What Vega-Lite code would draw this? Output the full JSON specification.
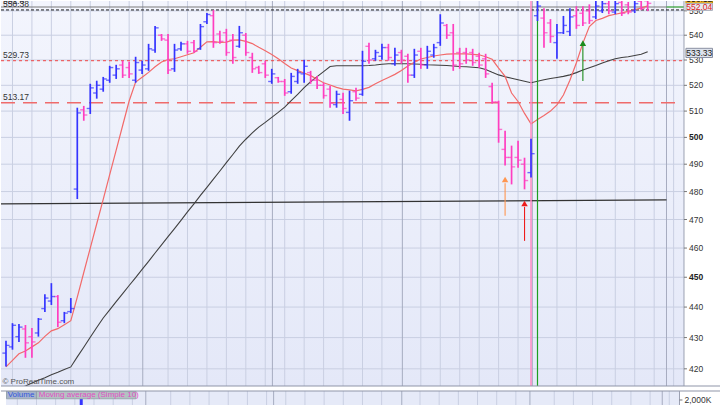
{
  "$schema": "https://vega.github.io/schema/vega-lite/v6.json",
  "padding": 0,
  "spacing": 3,
  "background": "#ffffff",
  "config": {"view": {"stroke": null}, "font": "Liberation Sans"},
  "datasets": {
    "bars": [
      {"i":0,"o":425.0,"h":429.0,"l":420.7,"c":427.5,"m1":420.6,"m2":412.1},
      {"i":1,"o":427.0,"h":434.7,"l":426.1,"c":434.0,"m1":422.7,"m2":413.0},
      {"i":2,"o":430.3,"h":434.4,"l":428.6,"c":433.4,"m1":424.8,"m2":413.8},
      {"i":3,"o":432.8,"h":434.1,"l":423.5,"c":428.3,"m1":425.7,"m2":414.6},
      {"i":4,"o":430.3,"h":433.1,"l":423.5,"c":428.6,"m1":427.0,"m2":415.5},
      {"i":5,"o":431.5,"h":436.4,"l":430.3,"c":436.0,"m1":428.3,"m2":416.4},
      {"i":6,"o":439.5,"h":444.3,"l":438.4,"c":443.0,"m1":430.4,"m2":417.2},
      {"i":7,"o":442.0,"h":448.0,"l":440.7,"c":443.5,"m1":432.2,"m2":418.1},
      {"i":8,"o":443.5,"h":444.0,"l":433.4,"c":435.0,"m1":432.9,"m2":418.9},
      {"i":9,"o":435.5,"h":438.4,"l":434.7,"c":438.0,"m1":434.2,"m2":419.8},
      {"i":10,"o":438.5,"h":443.0,"l":438.0,"c":439.5,"m1":435.5,"m2":420.6},
      {"i":11,"o":480.9,"h":511.3,"l":477.3,"c":509.3,"m1":443.3,"m2":423.8},
      {"i":12,"o":510.5,"h":512.0,"l":506.3,"c":508.5,"m1":451.6,"m2":426.9},
      {"i":13,"o":511.0,"h":520.6,"l":508.9,"c":519.0,"m1":460.0,"m2":430.1},
      {"i":14,"o":517.0,"h":521.8,"l":514.8,"c":520.0,"m1":468.5,"m2":433.3},
      {"i":15,"o":518.5,"h":523.3,"l":517.5,"c":522.5,"m1":477.2,"m2":436.4},
      {"i":16,"o":522.0,"h":527.7,"l":521.0,"c":527.0,"m1":486.2,"m2":439.1},
      {"i":17,"o":524.0,"h":528.1,"l":522.5,"c":526.5,"m1":495.2,"m2":441.8},
      {"i":18,"o":528.0,"h":529.7,"l":522.9,"c":524.0,"m1":504.5,"m2":444.5},
      {"i":19,"o":527.0,"h":529.3,"l":522.9,"c":524.5,"m1":513.9,"m2":447.2},
      {"i":20,"o":522.0,"h":531.3,"l":521.0,"c":529.0,"m1":521.3,"m2":449.9},
      {"i":21,"o":526.0,"h":529.7,"l":524.5,"c":528.0,"m1":523.2,"m2":452.7},
      {"i":22,"o":526.5,"h":536.5,"l":525.7,"c":534.5,"m1":525.1,"m2":455.4},
      {"i":23,"o":534.0,"h":543.8,"l":532.9,"c":543.0,"m1":527.3,"m2":458.3},
      {"i":24,"o":540.0,"h":540.5,"l":537.7,"c":538.5,"m1":529.2,"m2":461.1},
      {"i":25,"o":538.0,"h":540.5,"l":524.5,"c":526.0,"m1":530.2,"m2":464.0},
      {"i":26,"o":526.5,"h":536.5,"l":525.3,"c":534.0,"m1":530.5,"m2":466.8},
      {"i":27,"o":534.5,"h":537.3,"l":533.7,"c":536.5,"m1":531.3,"m2":469.7},
      {"i":28,"o":536.5,"h":537.7,"l":532.5,"c":533.5,"m1":532.1,"m2":472.7},
      {"i":29,"o":537.0,"h":538.1,"l":532.9,"c":533.5,"m1":532.9,"m2":475.6},
      {"i":30,"o":534.5,"h":544.6,"l":534.1,"c":543.5,"m1":535.1,"m2":478.6},
      {"i":31,"o":545.5,"h":549.1,"l":544.6,"c":548.5,"m1":537.3,"m2":481.5},
      {"i":32,"o":548.0,"h":550.3,"l":534.9,"c":537.0,"m1":537.4,"m2":484.5},
      {"i":33,"o":540.5,"h":541.8,"l":536.5,"c":537.5,"m1":537.1,"m2":487.5},
      {"i":34,"o":541.0,"h":542.6,"l":531.7,"c":533.0,"m1":537.2,"m2":490.6},
      {"i":35,"o":538.0,"h":540.5,"l":528.5,"c":531.0,"m1":538.0,"m2":493.6},
      {"i":36,"o":535.5,"h":543.8,"l":534.9,"c":541.0,"m1":538.1,"m2":496.7},
      {"i":37,"o":540.0,"h":540.9,"l":531.7,"c":533.0,"m1":537.5,"m2":499.3},
      {"i":38,"o":531.0,"h":532.9,"l":524.9,"c":526.5,"m1":536.6,"m2":501.7},
      {"i":39,"o":527.0,"h":527.7,"l":524.5,"c":525.0,"m1":535.1,"m2":503.9},
      {"i":40,"o":528.5,"h":529.7,"l":522.9,"c":524.0,"m1":533.7,"m2":505.7},
      {"i":41,"o":521.5,"h":526.5,"l":520.6,"c":524.5,"m1":532.2,"m2":507.6},
      {"i":42,"o":523.0,"h":523.3,"l":521.0,"c":521.5,"m1":530.5,"m2":509.5},
      {"i":43,"o":521.5,"h":522.5,"l":515.9,"c":517.0,"m1":528.6,"m2":511.5},
      {"i":44,"o":517.5,"h":524.9,"l":516.7,"c":523.5,"m1":526.8,"m2":514.0},
      {"i":45,"o":521.5,"h":526.5,"l":520.6,"c":525.0,"m1":525.8,"m2":516.5},
      {"i":46,"o":524.5,"h":530.1,"l":521.0,"c":527.5,"m1":524.8,"m2":519.1},
      {"i":47,"o":525.0,"h":525.7,"l":520.6,"c":522.0,"m1":523.8,"m2":521.4},
      {"i":48,"o":522.0,"h":523.7,"l":518.6,"c":520.0,"m1":522.4,"m2":523.4},
      {"i":49,"o":520.0,"h":521.0,"l":514.8,"c":516.0,"m1":521.0,"m2":525.4},
      {"i":50,"o":518.5,"h":519.8,"l":511.3,"c":513.0,"m1":520.1,"m2":527.4},
      {"i":51,"o":512.5,"h":517.9,"l":511.3,"c":516.5,"m1":519.2,"m2":527.7},
      {"i":52,"o":514.5,"h":517.1,"l":508.9,"c":511.0,"m1":518.5,"m2":527.7},
      {"i":53,"o":509.5,"h":517.9,"l":506.3,"c":514.0,"m1":518.2,"m2":527.7},
      {"i":54,"o":517.5,"h":519.0,"l":514.0,"c":515.0,"m1":517.8,"m2":527.7},
      {"i":55,"o":516.5,"h":533.7,"l":515.9,"c":529.5,"m1":518.4,"m2":527.7},
      {"i":56,"o":535.5,"h":536.9,"l":528.5,"c":530.0,"m1":519.2,"m2":527.8},
      {"i":57,"o":530.5,"h":534.1,"l":529.7,"c":533.0,"m1":520.6,"m2":528.0},
      {"i":58,"o":531.5,"h":536.5,"l":530.1,"c":535.0,"m1":521.9,"m2":528.3},
      {"i":59,"o":535.0,"h":536.5,"l":529.7,"c":531.0,"m1":523.1,"m2":528.5},
      {"i":60,"o":528.5,"h":534.9,"l":527.7,"c":532.0,"m1":524.3,"m2":528.5},
      {"i":61,"o":533.0,"h":534.1,"l":528.5,"c":530.0,"m1":525.8,"m2":528.5},
      {"i":62,"o":531.5,"h":532.5,"l":521.0,"c":524.0,"m1":527.6,"m2":528.5},
      {"i":63,"o":524.0,"h":534.5,"l":522.9,"c":532.0,"m1":529.1,"m2":528.4},
      {"i":64,"o":533.5,"h":534.9,"l":526.5,"c":528.0,"m1":530.4,"m2":528.3},
      {"i":65,"o":528.0,"h":535.7,"l":526.5,"c":533.5,"m1":531.0,"m2":528.1},
      {"i":66,"o":532.0,"h":536.5,"l":530.9,"c":535.0,"m1":531.6,"m2":528.0},
      {"i":67,"o":537.0,"h":548.6,"l":535.7,"c":545.0,"m1":532.0,"m2":527.9},
      {"i":68,"o":544.0,"h":544.6,"l":538.5,"c":540.0,"m1":532.4,"m2":527.8},
      {"i":69,"o":541.0,"h":544.6,"l":525.7,"c":528.0,"m1":532.5,"m2":527.6},
      {"i":70,"o":533.0,"h":534.9,"l":526.5,"c":528.5,"m1":532.5,"m2":527.4},
      {"i":71,"o":533.0,"h":534.9,"l":528.5,"c":530.0,"m1":532.5,"m2":527.3},
      {"i":72,"o":533.0,"h":534.5,"l":527.7,"c":529.0,"m1":532.3,"m2":527.1},
      {"i":73,"o":531.5,"h":532.9,"l":526.9,"c":528.0,"m1":532.1,"m2":526.9},
      {"i":74,"o":530.5,"h":532.5,"l":522.9,"c":524.5,"m1":531.3,"m2":526.2},
      {"i":75,"o":519.5,"h":521.0,"l":512.8,"c":513.5,"m1":530.3,"m2":525.1},
      {"i":76,"o":513.5,"h":514.0,"l":498.0,"c":503.0,"m1":526.8,"m2":524.1},
      {"i":77,"o":495.5,"h":502.5,"l":489.5,"c":492.5,"m1":523.5,"m2":523.4},
      {"i":78,"o":492.5,"h":496.9,"l":482.6,"c":489.0,"m1":517.0,"m2":522.8},
      {"i":79,"o":492.5,"h":498.7,"l":488.7,"c":491.5,"m1":513.7,"m2":522.2},
      {"i":80,"o":490.0,"h":492.4,"l":480.8,"c":484.0,"m1":509.1,"m2":521.6},
      {"i":81,"o":486.9,"h":499.5,"l":485.1,"c":493.9,"m1":505.1,"m2":521.0},
      {"i":82,"o":548.0,"h":558.0,"l":545.8,"c":552.0,"m1":506.8,"m2":521.6},
      {"i":83,"o":547.0,"h":551.1,"l":534.9,"c":541.0,"m1":508.3,"m2":522.2},
      {"i":84,"o":545.0,"h":546.6,"l":536.9,"c":539.5,"m1":510.0,"m2":522.7},
      {"i":85,"o":537.0,"h":544.6,"l":530.5,"c":541.0,"m1":512.4,"m2":523.1},
      {"i":86,"o":541.0,"h":547.9,"l":540.5,"c":544.0,"m1":516.2,"m2":523.5},
      {"i":87,"o":541.5,"h":551.1,"l":539.7,"c":547.5,"m1":522.0,"m2":524.1},
      {"i":88,"o":548.0,"h":551.9,"l":542.6,"c":544.0,"m1":528.9,"m2":525.0},
      {"i":89,"o":549.0,"h":551.9,"l":543.8,"c":545.0,"m1":536.8,"m2":526.0},
      {"i":90,"o":550.0,"h":552.7,"l":544.6,"c":546.0,"m1":543.5,"m2":526.9},
      {"i":91,"o":547.5,"h":555.0,"l":546.6,"c":552.0,"m1":546.0,"m2":527.8},
      {"i":92,"o":550.0,"h":556.0,"l":549.1,"c":553.0,"m1":546.9,"m2":528.8},
      {"i":93,"o":553.0,"h":555.0,"l":548.6,"c":550.0,"m1":548.0,"m2":529.7},
      {"i":94,"o":549.5,"h":555.5,"l":548.6,"c":553.0,"m1":548.6,"m2":530.5},
      {"i":95,"o":553.5,"h":555.0,"l":547.9,"c":549.0,"m1":549.2,"m2":531.0},
      {"i":96,"o":552.5,"h":553.7,"l":548.6,"c":549.5,"m1":549.8,"m2":531.3},
      {"i":97,"o":550.0,"h":554.5,"l":549.1,"c":553.0,"m1":550.5,"m2":531.8},
      {"i":98,"o":554.0,"h":555.0,"l":550.3,"c":551.0,"m1":551.2,"m2":532.3},
      {"i":99,"o":554.2,"h":554.5,"l":549.9,"c":553.12,"m1":552.04,"m2":533.33}
    ],
    "gridLight": [
      {"g":1},{"g":4},{"g":7},{"g":10},{"g":13},{"g":16},{"g":19},{"g":25},{"g":28},{"g":31},{"g":34},
      {"g":37},{"g":40},{"g":43},{"g":46},{"g":49},{"g":52},{"g":55},{"g":58},{"g":64},{"g":67},{"g":70},
      {"g":73},{"g":76},{"g":79},{"g":85},{"g":88},{"g":91},{"g":94},{"g":97},{"g":100},{"g":103}
    ],
    "gridDark": [{"g":21.1},{"g":41.1},{"g":61.15},{"g":81.2},{"g":101.9}],
    "gridH": [{"p":420},{"p":430},{"p":440},{"p":450},{"p":460},{"p":470},{"p":480},{"p":490},{"p":500},{"p":510},{"p":520},{"p":530},{"p":540},{"p":550}]
  },
  "vconcat": [
    {
      "width": 720,
      "height": 385,
      "layer": [
        {
          "data": {"values": [{"a": -0.77, "b": 104.6}]},
          "mark": {"type": "rect", "clip": true, "fill": {"gradient": "linear", "x1": 0, "y1": 0, "x2": 0, "y2": 1, "stops": [{"offset": 0, "color": "#f3f5fd"}, {"offset": 1, "color": "#e4e8f8"}]}},
          "encoding": {
            "x": {"field": "a", "type": "quantitative", "scale": {"domain": [-0.77, 110.31], "nice": false, "zero": false}, "axis": null},
            "x2": {"field": "b"}
          }
        },
        {
          "data": {"name": "gridH"},
          "mark": {"type": "rule", "color": "#c9cfe2", "strokeWidth": 1},
          "encoding": {
            "x": {"datum": -0.77, "type": "quantitative", "axis": null},
            "x2": {"datum": 104.6},
            "y": {"field": "p", "type": "quantitative", "scale": {"type": "log", "domain": [414.6, 554.1], "nice": false, "zero": false}, "axis": null}
          }
        },
        {
          "data": {"name": "gridLight"},
          "mark": {"type": "rule", "color": "#c9cfe2", "strokeWidth": 1, "clip": true},
          "encoding": {"x": {"field": "g", "type": "quantitative", "axis": null}}
        },
        {
          "data": {"name": "gridDark"},
          "mark": {"type": "rule", "color": "#a6acc0", "strokeWidth": 1, "clip": true},
          "encoding": {"x": {"field": "g", "type": "quantitative", "axis": null}}
        },
        {
          "data": {"values": [{"p": 513.17}]},
          "mark": {"type": "rule", "color": "#ef6b6b", "strokeWidth": 1.5, "strokeDash": [14, 8]},
          "encoding": {"x": {"datum": -0.77, "type": "quantitative", "axis": null}, "x2": {"datum": 104.4}, "y": {"field": "p", "type": "quantitative", "axis": null}}
        },
        {
          "data": {"values": [{"p": 529.73}]},
          "mark": {"type": "rule", "color": "#f04545", "strokeWidth": 1, "strokeDash": [3, 3]},
          "encoding": {"x": {"datum": -0.77, "type": "quantitative", "axis": null}, "x2": {"datum": 104.4}, "y": {"field": "p", "type": "quantitative", "axis": null}}
        },
        {
          "data": {"values": [{"p": 550.38}]},
          "mark": {"type": "rule", "color": "#1a1a1a", "strokeWidth": 1, "strokeDash": [3, 2]},
          "encoding": {"x": {"datum": -0.77, "type": "quantitative", "axis": null}, "x2": {"datum": 104.6}, "y": {"field": "p", "type": "quantitative", "axis": null}}
        },
        {
          "data": {"values": [{"p": 551.6}]},
          "mark": {"type": "rule", "color": "#7a7a7a", "strokeWidth": 1.2},
          "encoding": {"x": {"datum": -0.77, "type": "quantitative", "axis": null}, "x2": {"datum": 101.9}, "y": {"field": "p", "type": "quantitative", "axis": null}}
        },
        {
          "data": {"values": [{"p": 551.6}]},
          "mark": {"type": "rule", "color": "#2a9a2a", "strokeWidth": 1.2},
          "encoding": {"x": {"datum": 101.9, "type": "quantitative", "axis": null}, "x2": {"datum": 104.6}, "y": {"field": "p", "type": "quantitative", "axis": null}}
        },
        {
          "data": {"values": [{"i": -0.77, "p": 475.6, "i2": 101.9, "p2": 477.0}]},
          "mark": {"type": "rule", "color": "#333333", "strokeWidth": 1.2},
          "encoding": {"x": {"field": "i", "type": "quantitative", "axis": null}, "x2": {"field": "i2"}, "y": {"field": "p", "type": "quantitative", "axis": null}, "y2": {"field": "p2"}}
        },
        {
          "data": {"name": "bars"},
          "mark": {"type": "line", "color": "#404040", "strokeWidth": 1.1, "clip": true},
          "encoding": {"x": {"field": "i", "type": "quantitative", "axis": null}, "y": {"field": "m2", "type": "quantitative", "axis": null}}
        },
        {
          "data": {"name": "bars"},
          "mark": {"type": "line", "color": "#f26a6a", "strokeWidth": 1.2, "clip": true},
          "encoding": {"x": {"field": "i", "type": "quantitative", "axis": null}, "y": {"field": "m1", "type": "quantitative", "axis": null}}
        },
        {
          "data": {"values": [{"g": 81}]},
          "mark": {"type": "rule", "color": "#ff8ac4", "strokeWidth": 1.5},
          "encoding": {"x": {"field": "g", "type": "quantitative", "axis": null}}
        },
        {
          "data": {"values": [{"g": 82}]},
          "mark": {"type": "rule", "color": "#1e9e1e", "strokeWidth": 1.2},
          "encoding": {"x": {"field": "g", "type": "quantitative", "axis": null}}
        },
        {
          "data": {"name": "bars"},
          "mark": {"type": "rule", "strokeWidth": 1.7, "clip": true},
          "encoding": {
            "x": {"field": "i", "type": "quantitative", "axis": null},
            "y": {"field": "h", "type": "quantitative", "axis": null},
            "y2": {"field": "l"},
            "color": {"condition": {"test": "datum.c >= datum.o", "value": "#3434ff"}, "value": "#ff3ec0"}
          }
        },
        {
          "data": {"name": "bars"},
          "mark": {"type": "tick", "orient": "horizontal", "size": 3.6, "thickness": 1.4, "xOffset": -1.8, "clip": true},
          "encoding": {
            "x": {"field": "i", "type": "quantitative", "axis": null},
            "y": {"field": "o", "type": "quantitative", "axis": null},
            "color": {"condition": {"test": "datum.c >= datum.o", "value": "#3434ff"}, "value": "#ff3ec0"}
          }
        },
        {
          "data": {"name": "bars"},
          "mark": {"type": "tick", "orient": "horizontal", "size": 3.6, "thickness": 1.4, "xOffset": 1.8, "clip": true},
          "encoding": {
            "x": {"field": "i", "type": "quantitative", "axis": null},
            "y": {"field": "c", "type": "quantitative", "axis": null},
            "color": {"condition": {"test": "datum.c >= datum.o", "value": "#3434ff"}, "value": "#ff3ec0"}
          }
        },
        {
          "data": {"values": [
            {"name": "orange", "i": 77, "p1": 471.3, "p2": 483.0, "head": 484.4},
            {"name": "red", "i": 80, "p1": 462.5, "p2": 474.5, "head": 475.7},
            {"name": "green", "i": 89, "p1": 521.7, "p2": 535.7, "head": 536.8}
          ]},
          "layer": [
            {
              "mark": {"type": "rule", "strokeWidth": 1.1},
              "encoding": {
                "x": {"field": "i", "type": "quantitative", "axis": null},
                "y": {"field": "p1", "type": "quantitative", "axis": null},
                "y2": {"field": "p2"},
                "color": {"field": "name", "type": "nominal", "scale": {"domain": ["orange", "red", "green"], "range": ["#ff9650", "#ee1c1c", "#1c8c1c"]}, "legend": null}
              }
            },
            {
              "mark": {"type": "point", "shape": "triangle-up", "filled": true, "size": 42, "opacity": 1},
              "encoding": {
                "x": {"field": "i", "type": "quantitative", "axis": null},
                "y": {"field": "head", "type": "quantitative", "axis": null},
                "color": {"field": "name", "type": "nominal", "scale": {"domain": ["orange", "red", "green"], "range": ["#ff9650", "#ee1c1c", "#1c8c1c"]}, "legend": null}
              }
            }
          ]
        },
        {
          "data": {"values": [{"t": "551.6", "p": 551.6}, {"t": "550.38", "p": 550.38}, {"t": "529.73", "p": 529.73}, {"t": "513.17", "p": 513.17}]},
          "mark": {"type": "text", "align": "left", "baseline": "bottom", "dy": -1, "fontSize": 8.5, "color": "#333333", "font": "Liberation Sans", "clip": true},
          "encoding": {
            "x": {"datum": -0.46, "type": "quantitative", "axis": null},
            "y": {"field": "p", "type": "quantitative", "axis": null},
            "text": {"field": "t"}
          }
        },
        {
          "data": {"values": [{"t": "© ProRealTime.com", "p": 415.9}]},
          "mark": {"type": "text", "align": "left", "baseline": "middle", "fontSize": 8, "color": "#555555", "font": "Liberation Sans", "clip": true},
          "encoding": {
            "x": {"datum": -0.55, "type": "quantitative", "axis": null},
            "y": {"field": "p", "type": "quantitative", "axis": null},
            "text": {"field": "t"}
          }
        },
        {
          "data": {"values": [{"g": 104.6}]},
          "mark": {"type": "rule", "color": "#9ba0b2", "strokeWidth": 1},
          "encoding": {"x": {"field": "g", "type": "quantitative", "axis": null}}
        },
        {
          "data": {"name": "gridH"},
          "mark": {"type": "rule", "color": "#777777", "strokeWidth": 1},
          "encoding": {
            "x": {"datum": 104.6, "type": "quantitative", "axis": null},
            "x2": {"datum": 105.06},
            "y": {"field": "p", "type": "quantitative", "axis": null}
          }
        },
        {
          "data": {"name": "gridH"},
          "transform": [{"filter": "datum.p != 450 && datum.p != 500"}],
          "mark": {"type": "text", "align": "left", "baseline": "middle", "fontSize": 8.5, "color": "#333333", "font": "Liberation Sans", "clip": true},
          "encoding": {
            "x": {"datum": 105.37, "type": "quantitative", "axis": null},
            "y": {"field": "p", "type": "quantitative", "axis": null},
            "text": {"field": "p", "type": "quantitative", "format": "d"}
          }
        },
        {
          "data": {"name": "gridH"},
          "transform": [{"filter": "datum.p == 450 || datum.p == 500"}],
          "mark": {"type": "text", "align": "left", "baseline": "middle", "fontSize": 8.5, "fontWeight": "bold", "color": "#222222", "font": "Liberation Sans", "clip": true},
          "encoding": {
            "x": {"datum": 105.37, "type": "quantitative", "axis": null},
            "y": {"field": "p", "type": "quantitative", "axis": null},
            "text": {"field": "p", "type": "quantitative", "format": "d"}
          }
        },
        {
          "data": {"values": [
            {"k": "last", "t": "553.12", "top": 556.6, "bot": 553.1, "mid": 554.86},
            {"k": "fast", "t": "552.04", "top": 553.1, "bot": 550.2, "mid": 551.6},
            {"k": "slow", "t": "533.33", "top": 534.7, "bot": 531.0, "mid": 532.87}
          ]},
          "layer": [
            {
              "mark": {"type": "rect", "clip": true, "strokeWidth": 1},
              "encoding": {
                "x": {"datum": 104.9, "type": "quantitative", "axis": null},
                "x2": {"datum": 109.0},
                "y": {"field": "top", "type": "quantitative", "axis": null},
                "y2": {"field": "bot"},
                "fill": {"field": "k", "type": "nominal", "scale": {"domain": ["last", "fast", "slow"], "range": ["#f5b820", "#e6e9f2", "#dde2ec"]}, "legend": null},
                "stroke": {"field": "k", "type": "nominal", "scale": {"domain": ["last", "fast", "slow"], "range": ["#c08a00", "#a9adb9", "#8a90a2"]}, "legend": null}
              }
            },
            {
              "mark": {"type": "text", "align": "center", "baseline": "middle", "fontSize": 8.5, "font": "Liberation Sans", "clip": true},
              "encoding": {
                "x": {"datum": 106.95, "type": "quantitative", "axis": null},
                "y": {"field": "mid", "type": "quantitative", "axis": null},
                "text": {"field": "t"},
                "color": {"field": "k", "type": "nominal", "scale": {"domain": ["last", "fast", "slow"], "range": ["#222222", "#e02020", "#1a1a1a"]}, "legend": null}
              }
            }
          ]
        },
        {
          "data": {"values": [{"p": 414.6}]},
          "mark": {"type": "rule", "color": "#8f95a8", "strokeWidth": 1},
          "encoding": {"y": {"field": "p", "type": "quantitative", "axis": null}}
        }
      ],
      "resolve": {"scale": {"color": "independent", "fill": "independent", "stroke": "independent"}}
    },
    {
      "width": 720,
      "height": 17,
      "layer": [
        {
          "data": {"values": [{"a": -0.77, "b": 104.6}]},
          "mark": {"type": "rect", "clip": true, "fill": "#e6eaf8"},
          "encoding": {
            "x": {"field": "a", "type": "quantitative", "scale": {"domain": [-0.77, 110.31], "nice": false, "zero": false}, "axis": null},
            "x2": {"field": "b"}
          }
        },
        {
          "data": {"name": "gridLight"},
          "mark": {"type": "rule", "color": "#c9cfe2", "strokeWidth": 1, "clip": true},
          "encoding": {"x": {"field": "g", "type": "quantitative", "axis": null}}
        },
        {
          "data": {"name": "gridDark"},
          "mark": {"type": "rule", "color": "#a6acc0", "strokeWidth": 1, "clip": true},
          "encoding": {"x": {"field": "g", "type": "quantitative", "axis": null}}
        },
        {
          "data": {"values": [{"i": 11, "v": 2040000}]},
          "mark": {"type": "bar", "size": 3, "color": "#3535ff", "clip": true},
          "encoding": {
            "x": {"field": "i", "type": "quantitative", "axis": null},
            "y": {"field": "v", "type": "quantitative", "scale": {"domain": [1733000, 2300000], "nice": false, "zero": false}, "axis": null}
          }
        },
        {
          "data": {"values": [{"part": "vol", "a": -0.69, "b": 4.0}, {"part": "ma", "a": 4.0, "b": 19.55}]},
          "mark": {"type": "rect", "clip": true, "stroke": "#8e9ca6", "strokeWidth": 0.8},
          "encoding": {
            "x": {"field": "a", "type": "quantitative", "axis": null},
            "x2": {"field": "b"},
            "y": {"datum": 2300000, "type": "quantitative", "axis": null},
            "y2": {"datum": 2040000},
            "fill": {"field": "part", "type": "nominal", "scale": {"domain": ["vol", "ma"], "range": ["#a6b4cb", "#b3c2c2"]}, "legend": null}
          }
        },
        {
          "data": {"values": [{"part": "vol", "t": "Volume", "x": -0.5}, {"part": "ma", "t": "Moving average (Simple 10)", "x": 4.35}]},
          "mark": {"type": "text", "align": "left", "baseline": "middle", "fontSize": 8, "font": "Liberation Sans", "clip": true},
          "encoding": {
            "x": {"field": "x", "type": "quantitative", "axis": null},
            "y": {"datum": 2167000, "type": "quantitative", "axis": null},
            "text": {"field": "t"},
            "color": {"field": "part", "type": "nominal", "scale": {"domain": ["vol", "ma"], "range": ["#3355dd", "#e24ec6"]}, "legend": null}
          }
        },
        {
          "data": {"values": [{"v": 2300000}]},
          "mark": {"type": "rule", "color": "#8f95a8", "strokeWidth": 1},
          "encoding": {"y": {"field": "v", "type": "quantitative", "axis": null}}
        },
        {
          "data": {"values": [{"g": 104.6}]},
          "mark": {"type": "rule", "color": "#9ba0b2", "strokeWidth": 1},
          "encoding": {"x": {"field": "g", "type": "quantitative", "axis": null}}
        },
        {
          "data": {"values": [{"v": 2000000, "t": "2,000K"}]},
          "layer": [
            {
              "mark": {"type": "rule", "color": "#777777", "strokeWidth": 1},
              "encoding": {
                "x": {"datum": 104.6, "type": "quantitative", "axis": null},
                "x2": {"datum": 105.06},
                "y": {"field": "v", "type": "quantitative", "axis": null}
              }
            },
            {
              "mark": {"type": "text", "align": "left", "baseline": "middle", "fontSize": 8.5, "color": "#333333", "font": "Liberation Sans", "clip": true},
              "encoding": {
                "x": {"datum": 105.37, "type": "quantitative", "axis": null},
                "y": {"field": "v", "type": "quantitative", "axis": null},
                "text": {"field": "t"}
              }
            }
          ]
        }
      ],
      "resolve": {"scale": {"color": "independent", "fill": "independent"}}
    }
  ]
}
